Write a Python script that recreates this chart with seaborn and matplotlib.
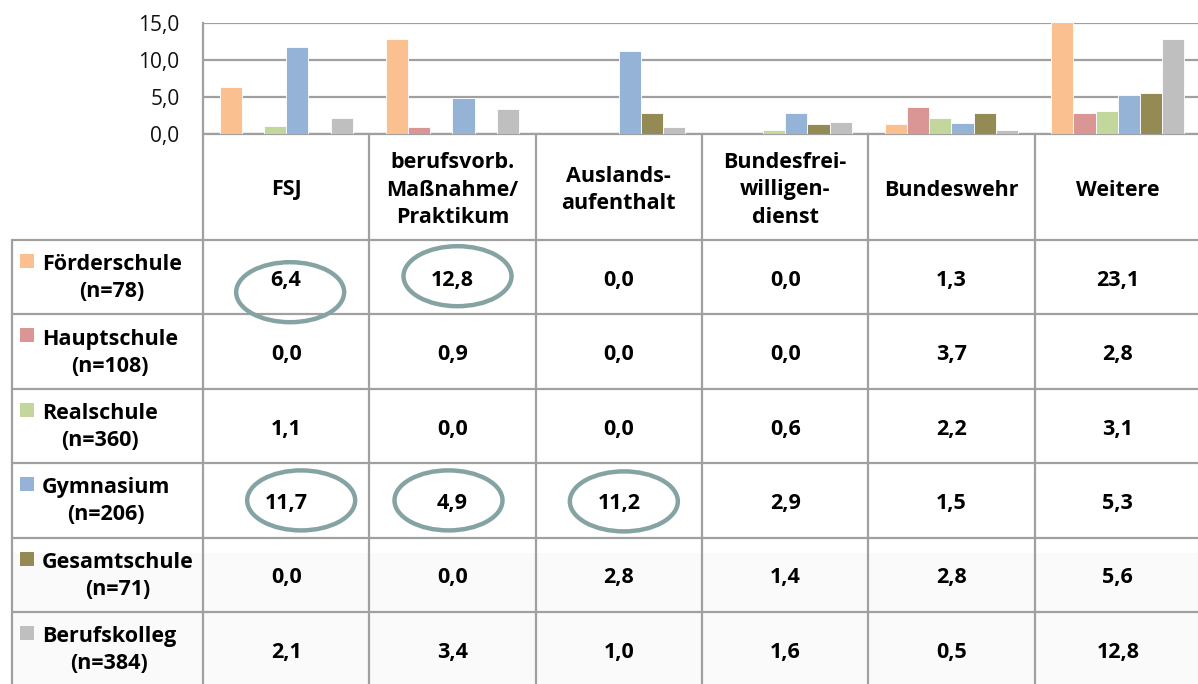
import numpy as np
import pandas as pd
import matplotlib
matplotlib.use("Agg")
import matplotlib.pyplot as plt
import seaborn as sns
from matplotlib.patches import Ellipse, Rectangle
from matplotlib.lines import Line2D
from matplotlib.ticker import FixedLocator, FixedFormatter

# ---------------- data ----------------
categories = ["FSJ", "berufsvorb.\nMaßnahme/\nPraktikum", "Auslands-\naufenthalt",
              "Bundesfrei-\nwilligen-\ndienst", "Bundeswehr", "Weitere"]
schools = ["Förderschule", "Hauptschule", "Realschule", "Gymnasium", "Gesamtschule", "Berufskolleg"]
school_n = ["(n=78)", "(n=108)", "(n=360)", "(n=206)", "(n=71)", "(n=384)"]
foerderschule = [6.4, 12.8, 0.0, 0.0, 1.3, 23.1]
hauptschule = [0.0, 0.9, 0.0, 0.0, 3.7, 2.8]
realschule = [1.1, 0.0, 0.0, 0.6, 2.2, 3.1]
gymnasium = [11.7, 4.9, 11.2, 2.9, 1.5, 5.3]
gesamtschule = [0.0, 0.0, 2.8, 1.4, 2.8, 5.6]
berufskolleg = [2.1, 3.4, 1.0, 1.6, 0.5, 12.8]
y_ticks = [0, 5, 10, 15]
# highlighted cells: (row index, column index)
highlighted = [(0, 0), (0, 1), (3, 0), (3, 1), (3, 2)]

series = [foerderschule, hauptschule, realschule, gymnasium, gesamtschule, berufskolleg]
colors = ["#FAC090", "#D99694", "#C3D69B", "#95B3D7", "#948A54", "#BFBFBF"]

def fmt(v):
    return f"{v:.1f}".replace(".", ",")

df = pd.DataFrame({
    "cat": [c for _ in schools for c in categories],
    "school": [s for s in schools for _ in categories],
    "val": [v for vals in series for v in vals],
})

# ---------------- layout (pixels) ----------------
W, H = 1198, 684
plot_left, plot_right = 203, 1201
plot_top, plot_bottom = 23, 134
table_left = 12
header_bottom = 240
row_h = 74.4
col_w = (plot_right - plot_left) / len(categories)
grid_c = "#A0A0A0"
ell_c = "#86A3A3"
font_fam = ["Open Sans", "DejaVu Sans"]

sns.set_theme(style="white")
plt.rcParams["font.family"] = font_fam

fig = plt.figure(figsize=(W / 100, H / 100), dpi=100)
fig.patch.set_facecolor("white")

# overlay axes in pixel coordinates for the table
ov = fig.add_axes([0, 0, 1, 1])
ov.set_xlim(0, W)
ov.set_ylim(H, 0)
ov.axis("off")
ov.patch.set_visible(False)

# ---------------- bar chart ----------------
ax = fig.add_axes([plot_left / W, (H - plot_bottom) / H,
                   (plot_right - plot_left) / W, (plot_bottom - plot_top) / H])
sns.barplot(data=df, x="cat", y="val", hue="school", order=categories,
            hue_order=schools, palette=colors, saturation=1, width=0.8,
            ax=ax, legend=False, edgecolor="white", linewidth=0.6)
ax.set_ylim(0, 15)
ax.set_xlim(-0.5, len(categories) - 0.5)
ax.yaxis.set_major_locator(FixedLocator(y_ticks))
ax.yaxis.set_major_formatter(FixedFormatter([fmt(v) for v in y_ticks]))
ax.yaxis.grid(True, color=grid_c, lw=1.6)
ax.set_axisbelow(True)
ax.set_xticks([])
ax.set_xlabel("")
ax.set_ylabel("")
ax.tick_params(axis="y", length=0, pad=17, labelsize=15, labelcolor="#111111")
for s in ["top", "right", "bottom"]:
    ax.spines[s].set_visible(False)
ax.spines["left"].set_color(grid_c)
ax.spines["left"].set_linewidth(1.6)
ax.patch.set_visible(False)

# ---------------- table ----------------
n_rows = len(schools)
row_tops = [header_bottom + i * row_h for i in range(n_rows + 1)]

# faint background in lower rows
ov.add_patch(Rectangle((table_left, row_tops[4] + 15), W - table_left, H - row_tops[4] - 15,
                       facecolor="#FAFAFA", edgecolor="none", zorder=0))

lw = 1.6
# bottom line of chart / header top
ov.add_line(Line2D([plot_left, W], [plot_bottom, plot_bottom], color=grid_c, lw=lw))
# vertical lines of columns
for i in range(len(categories) + 1):
    x = plot_left + i * col_w
    ov.add_line(Line2D([x, x], [plot_bottom, H], color=grid_c, lw=lw))
# left border
ov.add_line(Line2D([table_left, table_left], [header_bottom, H], color=grid_c, lw=lw))
# horizontal row lines
for y in row_tops[:-1]:
    ov.add_line(Line2D([table_left, W], [y, y], color=grid_c, lw=lw))

fs = 15.5
# header texts
for j, cat in enumerate(categories):
    cx = plot_left + (j + 0.5) * col_w
    ov.text(cx, (plot_bottom + header_bottom) / 2 + 3, cat, ha="center", va="center",
            fontsize=fs, fontweight="bold", linespacing=1.38, color="black")

# row labels and values
for i, (s, n) in enumerate(zip(schools, school_n)):
    top = row_tops[i]
    cy = top + row_h / 2
    ov.add_patch(Rectangle((20, top + 14), 14, 14, facecolor=colors[i], edgecolor="none"))
    ov.text(42, cy + 1, f"{s}\n{n}", ha="left", va="center", multialignment="center",
            fontsize=fs, fontweight="bold", linespacing=1.38, color="black")
    for j, v in enumerate(series[i]):
        cx = plot_left + (j + 0.5) * col_w
        ov.text(cx, cy + 3, fmt(v), ha="center", va="center", fontsize=fs,
                fontweight="bold", color="black")

# highlight ellipses
ell_offsets = {(0, 0): (4, 15), (0, 1): (5, -1), (3, 0): (15, 0), (3, 1): (-4, 0), (3, 2): (5, 1)}
for (i, j) in highlighted:
    dx, dy = ell_offsets.get((i, j), (0, 0))
    cx = plot_left + (j + 0.5) * col_w + dx
    cy = row_tops[i] + row_h / 2 + dy
    ov.add_patch(Ellipse((cx, cy), 108, 60, facecolor="none", edgecolor=ell_c, lw=3.2, zorder=5))

fig.savefig("out.png", dpi=100, facecolor="white")
